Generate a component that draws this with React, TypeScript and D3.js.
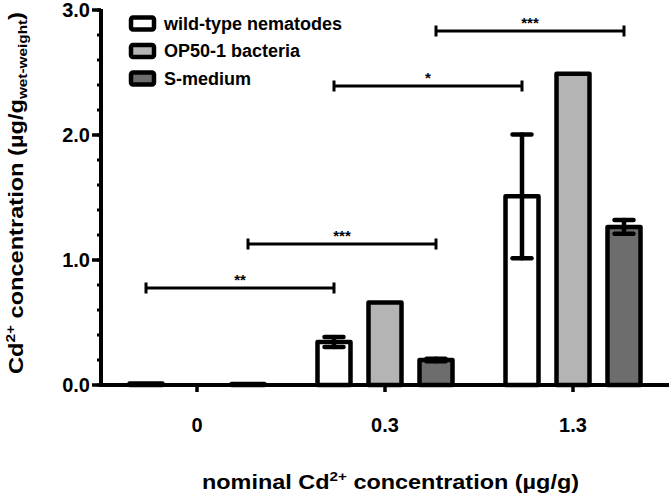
import React from 'react';
import * as d3 from 'd3';

const groups = ['0', '0.3', '1.3'];
const seriesNames = ['wild-type nematodes', 'OP50-1 bacteria', 'S-medium'];
const seriesColors = ['#ffffff', '#b4b4b4', '#6d6d6d'];
const nematodeMean = [0.012, 0.345, 1.51];
const nematodeErr = [0, 0.04, 0.495];
const bacteriaMean = [0, 0.66, 2.49];
const bacteriaErr = [0, 0, 0];
const mediumMean = [0.008, 0.2, 1.265];
const mediumErr = [0, 0.01, 0.055];
const yMajorTicks = [0, 1, 2, 3];
const yTickLabels = ['0.0', '1.0', '2.0', '3.0'];
const yMinorTicks = d3.range(0, 3.0001, 0.2);

const bracketFrom = [[0, 0], [0, 2], [1, 0], [1, 2]];
const bracketTo = [[1, 0], [1, 2], [2, 0], [2, 2]];
const bracketY = [0.776, 1.128, 2.392, 2.832];
const bracketLabels = ['**', '***', '*', '***'];

const means = [nematodeMean, bacteriaMean, mediumMean];
const errs = [nematodeErr, bacteriaErr, mediumErr];

const W = 669, H = 494;
const FONT = "'Liberation Sans', Arial, Helvetica, sans-serif";

export default function App() {
  const x0 = 101;
  const y = d3.scaleLinear().domain([0, 3]).range([385, 10]);
  const xg = d3.scaleBand<string>().domain(groups).range([103, 667]);
  const xs = d3.scalePoint<number>().domain([0, 1, 2]).range([-51, 51]);
  const cx = (g: number, s: number) => (xg(groups[g]) as number) + xg.bandwidth() / 2 + (xs(s) as number);
  const barW = 33;
  const sw = 4.5;
  const capHalf = 9.5;

  return (
    <svg width={W} height={H} style={{ position: 'absolute', left: 0, top: 0, background: '#fff' }}
      fontFamily={FONT} fontWeight="bold">
      <rect x={0} y={0} width={W} height={H} fill="#fff" />
      {/* bars */}
      {means.map((arr, s) =>
        arr.map((v, g) => {
          const x = cx(g, s);
          const top = y(v);
          const h = y(0) - top;
          if (h <= 0) return null;
          return (
            <rect key={`b${s}-${g}`} x={x - barW / 2} y={top} width={barW} height={h}
              fill={seriesColors[s]} stroke="#000" strokeWidth={sw} strokeLinejoin="round" />
          );
        })
      )}
      {/* error bars */}
      {means.map((arr, s) =>
        arr.map((v, g) => {
          const e = errs[s][g];
          if (!e) return null;
          const x = cx(g, s);
          const hi = y(v + e), lo = y(v - e);
          return (
            <g key={`e${s}-${g}`} stroke="#000" strokeWidth={sw} strokeLinecap="round">
              <line x1={x} x2={x} y1={hi} y2={lo} />
              <line x1={x - capHalf} x2={x + capHalf} y1={hi} y2={hi} />
              <line x1={x - capHalf} x2={x + capHalf} y1={lo} y2={lo} />
            </g>
          );
        })
      )}
      {/* axes */}
      <line x1={x0} x2={x0} y1={y(3) - 1} y2={y(0) + 2} stroke="#000" strokeWidth={4} />
      <line x1={x0 - 2} x2={W} y1={y(0)} y2={y(0)} stroke="#000" strokeWidth={4} />
      {yMinorTicks.map((t, i) => (
        <line key={`mt${i}`} x1={x0 - 4} x2={x0} y1={y(t)} y2={y(t)} stroke="#000" strokeWidth={3} />
      ))}
      {yMajorTicks.map((t, i) => (
        <g key={`yt${i}`}>
          <line x1={x0 - 9} x2={x0} y1={y(t)} y2={y(t)} stroke="#000" strokeWidth={3.5} />
          <text x={90} y={y(t)} dy="0.36em" textAnchor="end" fontSize={20} fill="#000">{yTickLabels[i]}</text>
        </g>
      ))}
      {groups.map((g, i) => {
        const x = (xg(g) as number) + xg.bandwidth() / 2;
        return (
          <g key={`xt${i}`}>
            <line x1={x} x2={x} y1={y(0)} y2={y(0) + 7} stroke="#000" strokeWidth={3.5} />
            <text x={x} y={432} textAnchor="middle" fontSize={20} fill="#000">{g}</text>
          </g>
        );
      })}
      {/* significance brackets */}
      {bracketLabels.map((lab, i) => {
        const xa = cx(bracketFrom[i][0], bracketFrom[i][1]);
        const xb = cx(bracketTo[i][0], bracketTo[i][1]);
        const yy = y(bracketY[i]);
        return (
          <g key={`br${i}`}>
            <g stroke="#000" strokeWidth={3}>
              <line x1={xa} x2={xb} y1={yy} y2={yy} />
              <line x1={xa} x2={xa} y1={yy - 5.5} y2={yy + 5.5} />
              <line x1={xb} x2={xb} y1={yy - 5.5} y2={yy + 5.5} />
            </g>
            <text x={(xa + xb) / 2} y={yy - 3.5} textAnchor="middle" fontSize={15} fill="#000">{lab}</text>
          </g>
        );
      })}
      {/* legend */}
      {seriesNames.map((name, i) => {
        const ry = 23.5 + i * 27.5;
        return (
          <g key={`lg${i}`}>
            <rect x={131} y={ry - 6} width={23} height={12} rx={2} fill={seriesColors[i]} stroke="#000" strokeWidth={4.5} />
            <text x={164} y={ry} dy="0.36em" fontSize={18} fill="#000">{name}</text>
          </g>
        );
      })}
      {/* x title */}
      <text x={390.5} y={489} textAnchor="middle" fontSize={20} fill="#000" textLength={377} lengthAdjust="spacingAndGlyphs">
        nominal Cd<tspan fontSize={13} dy={-8}>2+</tspan><tspan dy={8}> concentration (µg/g)</tspan>
      </text>
      {/* y title */}
      <text transform="translate(23,193) rotate(-90)" textAnchor="middle" fontSize={20} fill="#000" textLength={362} lengthAdjust="spacingAndGlyphs">
        Cd<tspan fontSize={13} dy={-8}>2+</tspan><tspan dy={8}> concentration (µg/g</tspan><tspan fontSize={13} dy={4}>wet-weight</tspan><tspan dy={-4}>)</tspan>
      </text>
    </svg>
  );
}
